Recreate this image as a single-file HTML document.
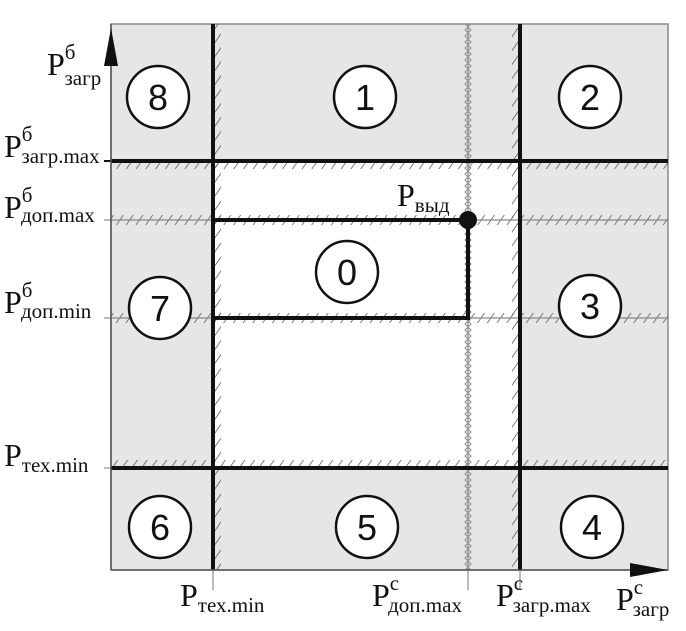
<!DOCTYPE html>
<html><head><meta charset="utf-8"><style>html,body{margin:0;padding:0;background:#fff}svg{display:block}text{font-family:"Liberation Serif",serif;fill:#111}.n text{font-family:"Liberation Sans",sans-serif;font-size:36px;text-anchor:middle}</style></head><body>
<svg width="686" height="631" viewBox="0 0 686 631" xmlns="http://www.w3.org/2000/svg">
<defs>
<pattern id="h" width="8" height="8" patternUnits="userSpaceOnUse" patternTransform="rotate(35)"><line x1="0" y1="0" x2="0" y2="8" stroke="#555" stroke-width="1.5"/></pattern>
</defs>
<rect x="111" y="24" width="557" height="546" fill="#e6e6e6" stroke="#888" stroke-width="1.5"/>
<rect x="213" y="161" width="307" height="307" fill="#fff"/>
<rect x="111" y="162" width="557" height="7" fill="url(#h)"/>
<rect x="111" y="460" width="557" height="7" fill="url(#h)"/>
<rect x="214" y="24" width="7" height="546" fill="url(#h)"/>
<rect x="512" y="24" width="7" height="546" fill="url(#h)"/>
<rect x="111" y="215" width="557" height="10" fill="url(#h)"/>
<rect x="111" y="313" width="557" height="10" fill="url(#h)"/>
<line x1="111" y1="220" x2="668" y2="220" stroke="#888" stroke-width="1.2"/>
<line x1="111" y1="318" x2="668" y2="318" stroke="#888" stroke-width="1.2"/>
<line x1="468" y1="24" x2="468" y2="590" stroke="#777" stroke-width="1"/>
<g fill="none" stroke="#999" stroke-width="1.2">
<path d="M465 24 L471 30 L465 36 L471 42 L465 48 L471 54 L465 60 L471 66 L465 72 L471 78 L465 84 L471 90 L465 96 L471 102 L465 108 L471 114 L465 120 L471 126 L465 132 L471 138 L465 144 L471 150 L465 156 L471 162 L465 168 L471 174 L465 180 L471 186 L465 192 L471 198 L465 204 L471 210 L465 216 L471 222 L465 228 L471 234 L465 240 L471 246 L465 252 L471 258 L465 264 L471 270 L465 276 L471 282 L465 288 L471 294 L465 300 L471 306 L465 312 L471 318 L465 324 L471 330 L465 336 L471 342 L465 348 L471 354 L465 360 L471 366 L465 372 L471 378 L465 384 L471 390 L465 396 L471 402 L465 408 L471 414 L465 420 L471 426 L465 432 L471 438 L465 444 L471 450 L465 456 L471 462 L465 468 L471 474 L465 480 L471 486 L465 492 L471 498 L465 504 L471 510 L465 516 L471 522 L465 528 L471 534 L465 540 L471 546 L465 552 L471 558 L465 564 L471 570"/>
<path d="M471 24 L465 30 L471 36 L465 42 L471 48 L465 54 L471 60 L465 66 L471 72 L465 78 L471 84 L465 90 L471 96 L465 102 L471 108 L465 114 L471 120 L465 126 L471 132 L465 138 L471 144 L465 150 L471 156 L465 162 L471 168 L465 174 L471 180 L465 186 L471 192 L465 198 L471 204 L465 210 L471 216 L465 222 L471 228 L465 234 L471 240 L465 246 L471 252 L465 258 L471 264 L465 270 L471 276 L465 282 L471 288 L465 294 L471 300 L465 306 L471 312 L465 318 L471 324 L465 330 L471 336 L465 342 L471 348 L465 354 L471 360 L465 366 L471 372 L465 378 L471 384 L465 390 L471 396 L465 402 L471 408 L465 414 L471 420 L465 426 L471 432 L465 438 L471 444 L465 450 L471 456 L465 462 L471 468 L465 474 L471 480 L465 486 L471 492 L465 498 L471 504 L465 510 L471 516 L465 522 L471 528 L465 534 L471 540 L465 546 L471 552 L465 558 L471 564 L465 570"/>
</g>
<g stroke="#111" stroke-width="4" fill="none">
<line x1="111" y1="161" x2="668" y2="161"/>
<line x1="111" y1="468" x2="668" y2="468"/>
<line x1="213" y1="24" x2="213" y2="570"/>
<line x1="520" y1="24" x2="520" y2="570"/>
<polyline points="213,220 468,220 468,318 213,318"/>
</g>
<line x1="213" y1="570" x2="213" y2="590" stroke="#777" stroke-width="1"/>
<line x1="520" y1="570" x2="520" y2="590" stroke="#777" stroke-width="1"/>
<line x1="104" y1="161" x2="111" y2="161" stroke="#111" stroke-width="2"/>
<line x1="104" y1="220" x2="111" y2="220" stroke="#777"/>
<line x1="104" y1="318" x2="111" y2="318" stroke="#777"/>
<line x1="104" y1="468" x2="111" y2="468" stroke="#777"/>
<circle cx="468" cy="220" r="9" fill="#111"/>
<line x1="111" y1="24" x2="111" y2="570" stroke="#555" stroke-width="1.5"/>
<polygon points="111,28 104,66 118,66" fill="#111"/>
<line x1="111" y1="570" x2="668" y2="570" stroke="#555" stroke-width="1.5"/>
<polygon points="668,570 630,563 630,577" fill="#111"/>
<g fill="#fff" stroke="#111" stroke-width="2.5">
<circle cx="158" cy="97" r="31"/><circle cx="365" cy="97" r="31"/><circle cx="590" cy="97" r="31"/>
<circle cx="347" cy="272" r="31"/><circle cx="160" cy="308" r="31"/><circle cx="590" cy="306" r="31"/>
<circle cx="160" cy="527" r="31"/><circle cx="367" cy="527" r="31"/><circle cx="592" cy="527" r="31"/>
</g>
<g class="n">
<text x="158" y="110">8</text><text x="365" y="110">1</text><text x="590" y="110">2</text>
<text x="347" y="285">0</text><text x="160" y="321">7</text><text x="590" y="319">3</text>
<text x="160" y="540">6</text><text x="367" y="540">5</text><text x="592" y="540">4</text>
</g>
<g font-size="32">
<text x="47" y="75">P<tspan font-size="21" dy="-16">б</tspan><tspan font-size="21" dx="-11" dy="26">загр</tspan></text>
<text x="4" y="157">P<tspan font-size="21" dy="-16">б</tspan><tspan font-size="21" dx="-11" dy="22">загр.max</tspan></text>
<text x="4" y="218">P<tspan font-size="21" dy="-16">б</tspan><tspan font-size="21" dx="-11" dy="20">доп.max</tspan></text>
<text x="4" y="313">P<tspan font-size="21" dy="-16">б</tspan><tspan font-size="21" dx="-11" dy="21">доп.min</tspan></text>
<text x="4" y="466">P<tspan font-size="21" dy="6">тех.min</tspan></text>
<text x="397" y="206">P<tspan font-size="21" dy="6">выд</tspan></text>
<text x="180" y="606">P<tspan font-size="21" dy="6">тех.min</tspan></text>
<text x="372" y="606">P<tspan font-size="21" dy="-16">с</tspan><tspan font-size="21" dx="-11" dy="22">доп.max</tspan></text>
<text x="496" y="606">P<tspan font-size="21" dy="-16">с</tspan><tspan font-size="21" dx="-11" dy="22">загр.max</tspan></text>
<text x="616" y="610">P<tspan font-size="21" dy="-16">с</tspan><tspan font-size="21" dx="-11" dy="22">загр</tspan></text>
</g>
</svg>
</body></html>
